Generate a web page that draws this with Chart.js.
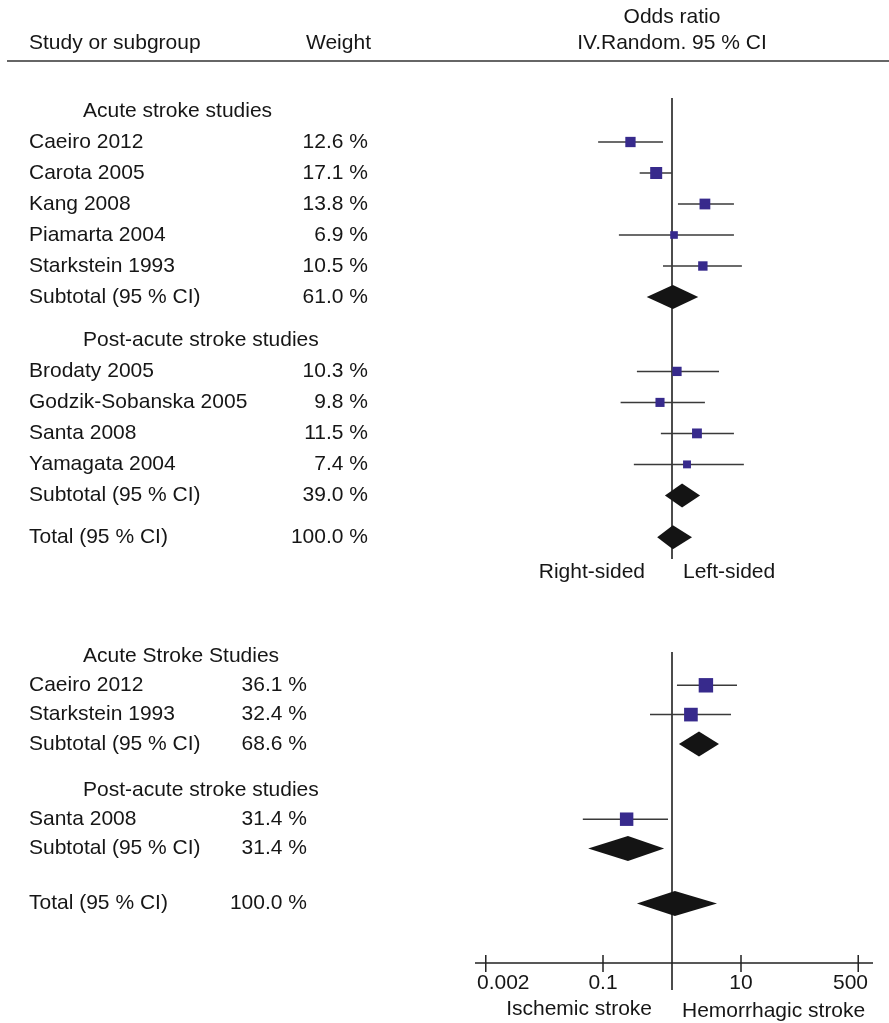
<!DOCTYPE html>
<html>
<head>
<meta charset="utf-8">
<title>Forest plot</title>
<script src="https://cdn.jsdelivr.net/npm/chart.js@4.4.1/dist/chart.umd.min.js"></script>
<style>
  html, body { margin: 0; padding: 0; background: #fff; }
  #page { position: relative; width: 889px; height: 1023px; }
  .panel { position: absolute; left: 0; width: 889px; }
  #topPanel { top: 0; height: 620px; }
  #bottomPanel { top: 620px; height: 403px; }
</style>
</head>
<body>
<div id="page">
  <div class="panel" id="topPanel"><canvas id="topChart"></canvas></div>
  <div class="panel" id="bottomPanel"><canvas id="bottomChart"></canvas></div>
</div>
<script>
// Top panel: right-sided vs left-sided lesions (null rows are group headers)
const topLabels = ['Acute stroke studies', 'Caeiro 2012', 'Carota 2005', 'Kang 2008', 'Piamarta 2004',
    'Starkstein 1993', 'Subtotal (95 % CI)', 'Post-acute stroke studies', 'Brodaty 2005',
    'Godzik-Sobanska 2005', 'Santa 2008', 'Yamagata 2004', 'Subtotal (95 % CI)', 'Total (95 % CI)'];
const topWeights = [null, 12.6, 17.1, 13.8, 6.9, 10.5, 61.0, null, 10.3, 9.8, 11.5, 7.4, 39.0, 100.0];
const topOR = [null, 0.25, 0.59, 3.0, 1.07, 2.8, 1.03, null, 1.18, 0.67, 2.3, 1.65, 1.4, 1.03];
const topLow = [null, 0.085, 0.34, 1.22, 0.17, 0.74, 0.43, null, 0.31, 0.18, 0.69, 0.28, 0.79, 0.61];
const topHigh = [null, 0.74, 1.0, 7.9, 7.9, 10.3, 2.4, null, 4.8, 3.0, 7.9, 11.0, 2.55, 1.95];

// Bottom panel: ischemic vs hemorrhagic stroke
const botLabels = ['Acute Stroke Studies', 'Caeiro 2012', 'Starkstein 1993', 'Subtotal (95 % CI)',
    'Post-acute stroke studies', 'Santa 2008', 'Subtotal (95 % CI)', 'Total (95 % CI)'];
const botWeights = [null, 36.1, 32.4, 68.6, null, 31.4, 31.4, 100.0];
const botOR = [null, 3.1, 1.88, 2.46, null, 0.22, 0.23, 1.1];
const botLow = [null, 1.18, 0.48, 1.26, null, 0.051, 0.061, 0.31];
const botHigh = [null, 8.75, 7.16, 4.8, null, 0.875, 0.77, 4.49];
const botTicks = [0.002, 0.1, 10, 500];

const FONT = "21px 'Liberation Sans', Arial, Helvetica, sans-serif";
const TEXT_COLOR = '#161616';
const SQUARE_COLOR = '#372a8c';

function isHeader(weights, i) { return weights[i] === null; }
function isPooled(labels, i) { return /^(Subtotal|Total)/.test(labels[i]); }

// row positions in "row units", with extra space before later headers and before the total
function rowPositions(labels, weights, headerGap, totalGap) {
    const pos = [];
    let y = 0;
    labels.forEach((label, i) => {
        if (i > 0) {
            y += 1;
            if (isHeader(weights, i)) y += headerGap;
            if (/^Total/.test(label)) y += totalGap;
        }
        pos.push(y);
    });
    return pos;
}

const forestPlugin = {
    id: 'forest',
    beforeDatasetsDraw(chart, args, opts) {
        const ctx = chart.ctx;
        const x1 = chart.scales.x.getPixelForValue(1);
        ctx.save();
        ctx.strokeStyle = '#111';
        ctx.lineWidth = 1.5;
        ctx.beginPath();
        ctx.moveTo(x1, opts.refTop);
        ctx.lineTo(x1, opts.refBottom);
        ctx.stroke();
        ctx.restore();
    },
    afterDatasetsDraw(chart, args, opts) {
        const ctx = chart.ctx;
        const xs = chart.scales.x, ys = chart.scales.y;
        ctx.save();
        ctx.fillStyle = '#141414';
        opts.labels.forEach((label, i) => {
            if (!isPooled(opts.labels, i)) return;
            const y = ys.getPixelForValue(opts.pos[i]);
            const h = opts.diamondHalf;
            ctx.beginPath();
            ctx.moveTo(xs.getPixelForValue(opts.low[i]), y);
            ctx.lineTo(xs.getPixelForValue(opts.or[i]), y - h);
            ctx.lineTo(xs.getPixelForValue(opts.high[i]), y);
            ctx.lineTo(xs.getPixelForValue(opts.or[i]), y + h);
            ctx.closePath();
            ctx.fill();
        });
        ctx.restore();
    },
    afterDraw(chart, args, opts) {
        const ctx = chart.ctx;
        const xs = chart.scales.x, ys = chart.scales.y;
        ctx.save();
        ctx.font = FONT;
        ctx.fillStyle = TEXT_COLOR;
        ctx.textBaseline = 'middle';

        // left-hand columns
        opts.labels.forEach((label, i) => {
            const y = ys.getPixelForValue(opts.pos[i]);
            ctx.textAlign = 'left';
            if (isHeader(opts.weights, i)) {
                ctx.fillText(label, 83, y);
                return;
            }
            ctx.fillText(label, 29, y);
            ctx.textAlign = 'right';
            ctx.fillText(opts.weights[i].toFixed(1) + ' %', opts.weightRight, y);
        });

        // column headings
        if (opts.heading) {
            ctx.textAlign = 'left';
            ctx.fillText('Study or subgroup', 29, 43);
            ctx.fillText('Weight', 306, 43);
            ctx.textAlign = 'center';
            ctx.fillText('Odds ratio', 672, 17);
            ctx.fillText('IV.Random. 95 % CI', 672, 43);
            ctx.strokeStyle = '#333';
            ctx.lineWidth = 1.5;
            ctx.beginPath();
            ctx.moveTo(7, 61);
            ctx.lineTo(889, 61);
            ctx.stroke();
        }

        // x axis with ticks crossing the line
        if (opts.ticks) {
            const ay = opts.axisY;
            const left = chart.chartArea.left, right = chart.chartArea.right;
            ctx.strokeStyle = '#222';
            ctx.lineWidth = 1.5;
            ctx.beginPath();
            ctx.moveTo(left, ay);
            ctx.lineTo(right, ay);
            opts.ticks.forEach(t => {
                const tx = xs.getPixelForValue(t);
                ctx.moveTo(tx, ay - 8);
                ctx.lineTo(tx, ay + 9);
            });
            ctx.stroke();
            ctx.textAlign = 'center';
            opts.ticks.forEach(t => {
                const s = String(t);
                const w = ctx.measureText(s).width;
                let cx = xs.getPixelForValue(t);
                cx = Math.max(left + 2 + w / 2, Math.min(right - 5 - w / 2, cx));
                ctx.fillText(s, cx, ay + 20);
            });
        }

        // side notes under the plot
        opts.notes.forEach(n => {
            ctx.textAlign = n.align;
            ctx.fillText(n.text, n.x, n.y);
        });
        ctx.restore();
    }
};

function buildPanel(canvasId, cfg) {
    const pos = rowPositions(cfg.labels, cfg.weights, cfg.headerGap, cfg.totalGap);
    const studyIdx = cfg.labels.map((l, i) => i)
        .filter(i => !isHeader(cfg.weights, i) && !isPooled(cfg.labels, i));

    const squares = {
        label: 'Odds ratio',
        data: studyIdx.map(i => ({ x: cfg.or[i], y: pos[i] })),
        pointStyle: 'rect',
        pointRadius: studyIdx.map(i => cfg.markerK * Math.sqrt(cfg.weights[i]) / Math.SQRT2),
        backgroundColor: SQUARE_COLOR,
        borderWidth: 0,
        order: 0,
        clip: false
    };
    const ciLines = studyIdx.map(i => ({
        label: cfg.labels[i],
        data: [{ x: cfg.low[i], y: pos[i] }, { x: cfg.high[i], y: pos[i] }],
        showLine: true,
        borderColor: '#3a3a3a',
        borderWidth: 1.5,
        pointRadius: 0,
        order: 1,
        clip: false
    }));

    const xMin = Math.pow(10, (475 - 672) / 69);
    const xMax = Math.pow(10, (873 - 672) / 69);

    return new Chart(document.getElementById(canvasId), {
        type: 'scatter',
        data: { datasets: [squares].concat(ciLines) },
        options: {
            responsive: true,
            maintainAspectRatio: false,
            devicePixelRatio: 1,
            animation: false,
            layout: { autoPadding: false, padding: { left: 475, right: 16, top: 0, bottom: 0 } },
            scales: {
                x: { type: 'logarithmic', min: xMin, max: xMax, bounds: 'data', display: false },
                y: {
                    type: 'linear', reverse: true, bounds: 'data', display: false,
                    min: -cfg.row0 / cfg.pitch,
                    max: (cfg.height - cfg.row0) / cfg.pitch
                }
            },
            plugins: {
                legend: { display: false },
                tooltip: { enabled: false },
                forest: {
                    labels: cfg.labels, weights: cfg.weights, or: cfg.or, low: cfg.low, high: cfg.high,
                    pos: pos,
                    weightRight: cfg.weightRight,
                    diamondHalf: cfg.diamondHalf,
                    refTop: cfg.refTop, refBottom: cfg.refBottom,
                    heading: cfg.heading,
                    ticks: cfg.ticks, axisY: cfg.axisY,
                    notes: cfg.notes
                }
            }
        },
        plugins: [forestPlugin]
    });
}

buildPanel('topChart', {
    labels: topLabels, weights: topWeights, or: topOR, low: topLow, high: topHigh,
    headerGap: 0.4, totalGap: 0.35, pitch: 31, row0: 111, height: 620,
    weightRight: 368, markerK: 2.9, diamondHalf: 12,
    refTop: 98, refBottom: 559, heading: true, ticks: null,
    notes: [
        { text: 'Right-sided', x: 645, y: 572, align: 'right' },
        { text: 'Left-sided', x: 683, y: 572, align: 'left' }
    ]
});

buildPanel('bottomChart', {
    labels: botLabels, weights: botWeights, or: botOR, low: botLow, high: botHigh,
    headerGap: 0.57, totalGap: 0.88, pitch: 29.3, row0: 36, height: 403,
    weightRight: 307, markerK: 2.4, diamondHalf: 12.5,
    refTop: 32, refBottom: 370, heading: false, ticks: botTicks, axisY: 343,
    notes: [
        { text: 'Ischemic stroke', x: 652, y: 389, align: 'right' },
        { text: 'Hemorrhagic stroke', x: 682, y: 391, align: 'left' }
    ]
});
</script>
</body>
</html>
